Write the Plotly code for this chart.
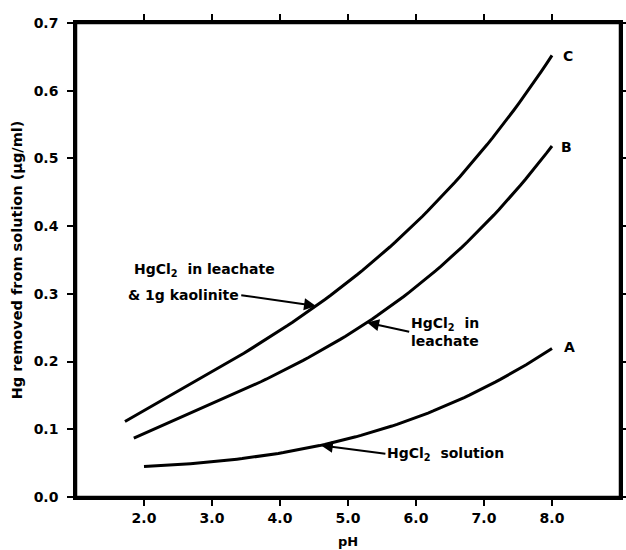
import numpy as np
import plotly.graph_objects as go

# Curve C: HgCl2 in leachate & 1g kaolinite
ph_c = [1.72, 2.0, 3.0, 4.0, 5.0, 6.0, 7.0, 8.0]
hg_c = [0.111, 0.128, 0.185, 0.245, 0.318, 0.405, 0.515, 0.652]
# Curve B: HgCl2 in leachate
ph_b = [1.85, 2.0, 3.0, 4.0, 5.0, 6.0, 7.0, 8.0]
hg_b = [0.087, 0.093, 0.137, 0.187, 0.237, 0.308, 0.405, 0.517]
# Curve A: HgCl2 solution
ph_a = [2.0, 2.5, 3.0, 4.0, 5.0, 6.0, 7.0, 7.6, 8.0]
hg_a = [0.046, 0.047, 0.051, 0.064, 0.087, 0.120, 0.158, 0.192, 0.222]

x_ticks = [2, 3, 4, 5, 6, 7, 8]
x_ticklabels = ["2.0", "3.0", "4.0", "5.0", "6.0", "7.0", "8.0"]
y_ticks = [0, 0.1, 0.2, 0.3, 0.4, 0.5, 0.6, 0.7]
y_ticklabels = ["0.0", "0.1", "0.2", "0.3", "0.4", "0.5", "0.6", "0.7"]

FONT = "DejaVu Sans"
BOLD = dict(family=FONT, color="black", weight="bold")


def smooth(xs, ys):
    return np.poly1d(np.polyfit(xs, ys, 3))


fig = go.Figure()
for xs, ys, name in [(ph_c, hg_c, "C"), (ph_b, hg_b, "B"), (ph_a, hg_a, "A")]:
    xf = np.linspace(xs[0], xs[-1], 80)
    fig.add_trace(go.Scatter(x=xf, y=smooth(xs, ys)(xf), mode="lines", name=name,
                             line=dict(color="black", width=3), showlegend=False))

anns = []


def text(x, y, t, xanchor="left", size=14, arrow_to=None, align="left"):
    a = dict(xref="x", yref="y", text=t, xanchor=xanchor, yanchor="middle",
             align=align, font=dict(size=size, **BOLD))
    if arrow_to is None:
        a.update(x=x, y=y, showarrow=False)
    else:
        a.update(x=arrow_to[0], y=arrow_to[1], ax=x, ay=y, axref="x", ayref="y",
                 showarrow=True, arrowhead=2, arrowsize=1.2, arrowwidth=2,
                 arrowcolor="black", standoff=0, startstandoff=0)
    anns.append(a)


text(8.13, hg_c[-1], "C")
text(8.11, hg_b[-1], "B")
text(8.15, hg_a[-1], "A")
text(1.82, 0.335, "HgCl<sub>2</sub>  in leachate")
text(3.43, 0.298, "& 1g kaolinite", xanchor="right",
     arrow_to=(4.53, float(smooth(ph_c, hg_c)(4.53))))
text(5.90, 0.244, "HgCl<sub>2</sub>  in<br>leachate",
     arrow_to=(5.28, float(smooth(ph_b, hg_b)(5.28))))
text(5.55, 0.064, "HgCl<sub>2</sub>  solution",
     arrow_to=(4.60, float(smooth(ph_a, hg_a)(4.60))))

axis_common = dict(showline=True, linecolor="black", linewidth=2.5, mirror="ticks",
                   ticks="outside", ticklen=6, tickwidth=2, tickcolor="black",
                   showgrid=False, zeroline=False, automargin=False,
                   tickfont=dict(size=14, **BOLD))

fig.update_layout(
    width=626, height=550,
    margin=dict(l=76, r=6, t=23, b=53),
    paper_bgcolor="white", plot_bgcolor="white",
    font=dict(family=FONT, color="black"),
    xaxis=dict(range=[1, 9], tickvals=x_ticks, ticktext=x_ticklabels,
               title=dict(text="pH", standoff=13, font=dict(size=13, **BOLD)),
               **axis_common),
    yaxis=dict(range=[0, 0.7], tickvals=y_ticks, ticktext=y_ticklabels,
               ticklabelstandoff=6,
               title=dict(text="Hg removed from solution (μg/ml)", standoff=8,
                          font=dict(size=14.5, **BOLD)),
               **axis_common),
    annotations=anns,
    shapes=[dict(type="rect", xref="x domain", yref="y domain", x0=0, x1=1, y0=0, y1=1,
                 line=dict(color="black", width=2.5), layer="above")],
)
fig.write_html("out.html", config={"displayModeBar": False},
               post_script="document.body.style.margin='0';document.body.style.overflow='hidden';")
